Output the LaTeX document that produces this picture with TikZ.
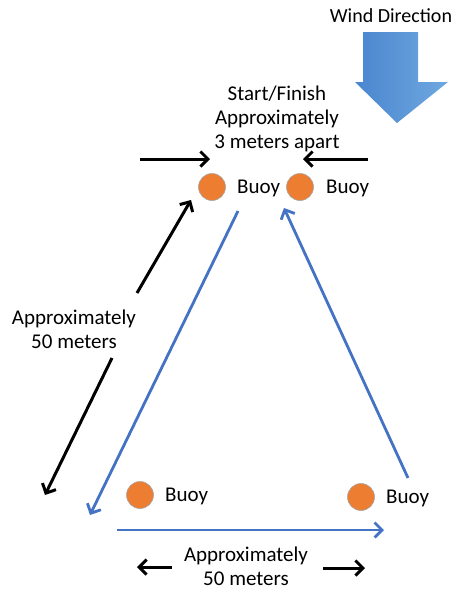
\documentclass[tikz,border=0pt]{standalone}
\usepackage{fontspec}
\setmainfont{Carlito}
\usetikzlibrary{arrows.meta}
\definecolor{buoyorange}{HTML}{ED7D31}
\definecolor{courseblue}{HTML}{4472C4}
\definecolor{winddark}{HTML}{4A86CF}
\definecolor{windlight}{HTML}{6FA8E0}
\begin{document}
\begin{tikzpicture}[x=1pt,y=-1pt,
  txt/.style={font=\fontsize{21}{24}\selectfont, inner sep=0pt, align=center},
  buoy/.style={circle, fill=buoyorange, draw=gray!70, line width=0.6pt, minimum size=27pt, inner sep=0pt},
  measure/.style={line width=3pt, -{Straight Barb[length=7.5pt,width=15pt,line width=3pt]}},
  course/.style={courseblue, line width=2.8pt, -{Straight Barb[length=7.5pt,width=15pt,line width=2.8pt]}}]
\useasboundingbox (0,0) rectangle (457,592);

% wind indicator
\node[txt, font=\fontsize{20}{24}\selectfont] (wind) at (391,16) {Wind Direction};
\shade[left color=winddark, right color=windlight]
  (363,32) -- (418,32) -- (418,82) -- (448,82) -- (397,123) -- (355,82) -- (363,82) -- cycle;

% start / finish line
\node[txt] (start) at (277,119) {Start/Finish\\Approximately\\3 meters apart};
\node[buoy] (b1) at (212,187) {};
\node[buoy] (b2) at (300,187) {};
\node[txt, anchor=west] (l1) at (237,188) {Buoy};
\node[txt, anchor=west] (l2) at (326,188) {Buoy};
\coordinate (sl0) at (140,159);
\coordinate (sl1) at (210,159);
\coordinate (sr0) at (368,159);
\coordinate (sr1) at (303,159);
\draw[measure] (sl0) -- (sl1);
\draw[measure] (sr0) -- (sr1);

% lower marks
\node[buoy] (b3) at (140,495) {};
\node[buoy] (b4) at (361,497) {};
\node[txt, anchor=west] (l3) at (165,496) {Buoy};
\node[txt, anchor=west] (l4) at (386,498) {Buoy};

% course legs
\coordinate (c1) at (238,211);
\coordinate (c2) at (90,515);
\coordinate (c3) at (117,530);
\coordinate (c4) at (384,530);
\coordinate (c5) at (408,478);
\coordinate (c6) at (284,208);
\draw[course] (c1) -- (c2);
\draw[course] (c3) -- (c4);
\draw[course] (c5) -- (c6);

% side length
\node[txt] (side) at (74,329) {Approximately\\50 meters};
\coordinate (s0) at (137,293);
\coordinate (s1) at (191,200);
\coordinate (s2) at (112,358);
\coordinate (s3) at (45,495);
\draw[measure] (s0) -- (s1);
\draw[measure] (s2) -- (s3);

% base length
\node[txt] (base) at (246,566) {Approximately\\50 meters};
\coordinate (h0) at (172,567);
\coordinate (h1) at (137,567);
\coordinate (h2) at (323,568);
\coordinate (h3) at (365,568);
\draw[measure] (h0) -- (h1);
\draw[measure] (h2) -- (h3);
\end{tikzpicture}
\end{document}
